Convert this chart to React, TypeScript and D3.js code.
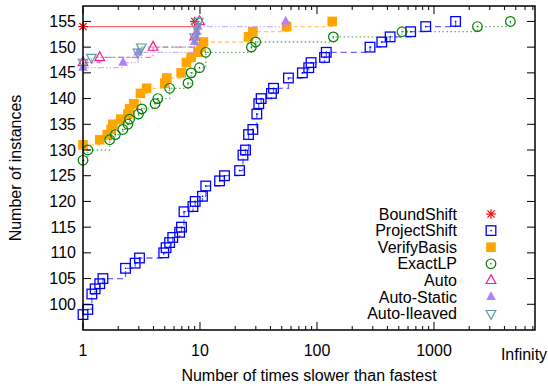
import * as d3 from 'd3';

// performance profile: [times slower than fastest, number of instances]
const boundShift: [number, number][] = [[1, 154], [9, 155]];
const projectShift: [number, number][] = [
  [1, 98], [1.1, 99], [1.19, 102], [1.27, 103], [1.39, 104], [1.48, 105], [2.31, 107], [2.79, 108],
  [3.04, 109], [4.9, 110], [5.13, 111], [5.5, 112], [5.85, 113], [6.7, 114], [6.95, 115], [7.3, 118],
  [8.7, 119], [9.1, 120], [10.5, 121], [11.2, 123], [14.7, 124], [16.2, 125], [21.8, 126], [23.3, 129],
  [24.5, 130], [26, 133], [28.3, 134], [30.6, 137], [31.8, 139], [33.3, 140], [40.8, 141], [42.5, 142],
  [57, 144], [75, 145], [85, 146], [89, 147], [116, 148], [120, 149], [284, 150], [358, 151],
  [422, 152], [632, 153], [850, 154], [1530, 155],
];
const verifyBasis: [number, number][] = [
  [1, 131], [1.39, 132], [1.61, 133], [1.74, 134], [1.8, 135], [2.1, 136], [2.42, 137], [2.5, 138],
  [2.72, 139], [3.1, 141], [3.5, 142], [5.0, 143], [5.2, 144], [6.9, 145], [7.65, 147], [8.4, 148],
  [9.6, 149], [10.2, 150], [10.7, 151], [26, 152], [28.3, 153], [55, 154], [135, 155],
];
const exactLP: [number, number][] = [
  [1, 128], [1.1, 130], [1.69, 132], [1.89, 133], [2.19, 134], [2.42, 135], [2.5, 136], [2.98, 137],
  [3.18, 138], [4.13, 139], [4.36, 140], [5.5, 142], [7.9, 143], [8.4, 145], [9.9, 146], [11.2, 149],
  [27.5, 150], [29.9, 151], [138, 152], [533, 153], [2350, 154], [4500, 155],
];
const auto: [number, number][] = [[1, 147], [1.39, 148], [3.97, 150], [9, 152], [9.9, 155]];
const autoStatic: [number, number][] = [
  [1, 146], [2.2, 147], [2.96, 149], [9, 151], [9.2, 152], [9.4, 153], [9.6, 154], [54, 155],
];
const autoIleaved: [number, number][] = [
  [1, 147], [1.18, 148], [2.95, 149], [3.15, 150], [9, 152], [9.3, 154], [9.7, 155],
];

const yTicks = d3.range(100, 156, 5);
const xMajor = [1, 10, 100, 1000];
const xMinor = [2, 3, 4, 5, 6, 7, 8, 9, 20, 30, 40, 50, 60, 70, 80, 90, 200, 300, 400, 500, 600, 700, 800, 900,
  2000, 3000, 4000, 5000, 6000, 7000];

type Marker = 'star' | 'boxdot' | 'fbox' | 'circdot' | 'tri' | 'ftri' | 'itri';
const series = [
  { name: 'BoundShift', data: boundShift, color: '#ff0000', marker: 'star' as Marker, dash: '' },
  { name: 'ProjectShift', data: projectShift, color: '#0000ff', marker: 'boxdot' as Marker, dash: '6,4' },
  { name: 'VerifyBasis', data: verifyBasis, color: '#ffa500', marker: 'fbox' as Marker, dash: '4,3' },
  { name: 'ExactLP', data: exactLP, color: '#007f00', marker: 'circdot' as Marker, dash: '1.5,2.5' },
  { name: 'Auto', data: auto, color: '#ff1493', marker: 'tri' as Marker, dash: '6,3,1.5,3' },
  { name: 'Auto-Static', data: autoStatic, color: '#b080ff', marker: 'ftri' as Marker, dash: '6,2,1.5,2,1.5,2' },
  { name: 'Auto-Ileaved', data: autoIleaved, color: '#5f9ea0', marker: 'itri' as Marker, dash: '5,3' },
];

const W = 548;
const H = 386;
const left = 83, right = 535, top = 6, bottom = 330;
const font = '"Liberation Sans", Arial, sans-serif';

const x = d3.scaleLog().domain([1, 7300]).range([left, right]);
const y = d3.scaleLinear().domain([95, 158]).range([bottom, top]);

const line = d3.line<[number, number]>()
  .x(d => x(d[0]))
  .y(d => y(d[1]))
  .curve(d3.curveStepAfter);

function drawMarker(m: Marker, cx: number, cy: number, color: string, key: string) {
  const s = 4.8;
  switch (m) {
    case 'star':
      return (
        <g key={key} stroke={color} strokeWidth={1.2}>
          <line x1={cx - s} y1={cy} x2={cx + s} y2={cy} />
          <line x1={cx} y1={cy - s} x2={cx} y2={cy + s} />
          <line x1={cx - s * 0.75} y1={cy - s * 0.75} x2={cx + s * 0.75} y2={cy + s * 0.75} />
          <line x1={cx - s * 0.75} y1={cy + s * 0.75} x2={cx + s * 0.75} y2={cy - s * 0.75} />
        </g>
      );
    case 'boxdot':
      return (
        <g key={key}>
          <rect x={cx - s} y={cy - s} width={s * 2} height={s * 2} fill="none" stroke={color} strokeWidth={1.3} />
          <rect x={cx - 0.7} y={cy - 0.7} width={1.4} height={1.4} fill={color} />
        </g>
      );
    case 'fbox':
      return <rect key={key} x={cx - s} y={cy - s} width={s * 2} height={s * 2} fill={color} />;
    case 'circdot':
      return (
        <g key={key}>
          <circle cx={cx} cy={cy} r={s} fill="none" stroke={color} strokeWidth={1.2} />
          <circle cx={cx} cy={cy} r={0.8} fill={color} />
        </g>
      );
    case 'tri':
    case 'ftri': {
      const p = `${cx},${cy - s * 1.2} ${cx + s},${cy + s * 0.65} ${cx - s},${cy + s * 0.65}`;
      return m === 'tri'
        ? <polygon key={key} points={p} fill="none" stroke={color} strokeWidth={1.2} />
        : <polygon key={key} points={p} fill={color} />;
    }
    case 'itri': {
      const p = `${cx},${cy + s * 1.2} ${cx + s},${cy - s * 0.65} ${cx - s},${cy - s * 0.65}`;
      return <polygon key={key} points={p} fill="none" stroke={color} strokeWidth={1.2} />;
    }
  }
}

export default function App() {
  return (
    <svg width={W} height={H} style={{ position: 'absolute', left: 0, top: 0, background: '#fff' }}
      fontFamily={font}>
      <rect width={W} height={H} fill="#fff" />
      {/* series */}
      {series.map(s => (
        <g key={s.name}>
          <path d={line(s.data) ?? ''} fill="none" stroke={s.color} strokeOpacity={0.6} strokeWidth={1.3}
            strokeDasharray={s.dash || undefined} />
          {s.data.map((d, i) => drawMarker(s.marker, x(d[0]), y(d[1]), s.color, `${s.name}-${i}`))}
        </g>
      ))}
      {/* ticks */}
      <g stroke="#000" strokeWidth={1}>
        {yTicks.map(t => (
          <g key={t}>
            <line x1={left} x2={left + 8} y1={y(t)} y2={y(t)} />
            <line x1={right} x2={right - 8} y1={y(t)} y2={y(t)} />
          </g>
        ))}
        {xMajor.map(t => (
          <g key={t}>
            <line x1={x(t)} x2={x(t)} y1={bottom} y2={bottom - 8} />
            <line x1={x(t)} x2={x(t)} y1={top} y2={top + 8} />
          </g>
        ))}
        {xMinor.map(t => (
          <g key={t}>
            <line x1={x(t)} x2={x(t)} y1={bottom} y2={bottom - 4} />
            <line x1={x(t)} x2={x(t)} y1={top} y2={top + 4} />
          </g>
        ))}
      </g>
      <rect x={left} y={top} width={right - left} height={bottom - top} fill="none" stroke="#000" strokeWidth={1.5} />
      {/* tick labels */}
      <g fontSize={16} fill="#000">
        {yTicks.map(t => (
          <text key={t} x={left - 7} y={y(t)} dy="0.35em" textAnchor="end">{t}</text>
        ))}
        {xMajor.map(t => (
          <text key={t} x={x(t)} y={356} textAnchor="middle">{t}</text>
        ))}
        <text x={x(5880)} y={360} textAnchor="middle">Infinity</text>
        <text x={(left + right) / 2} y={381} textAnchor="middle">Number of times slower than fastest</text>
        <text transform={`translate(21,${(top + bottom) / 2}) rotate(-90)`} textAnchor="middle">Number of instances</text>
      </g>
      {/* legend */}
      <g fontSize={16}>
        {series.map((s, i) => {
          const ly = 214 + i * 16.6;
          return (
            <g key={s.name}>
              <text x={457} y={ly} dy="0.35em" textAnchor="end">{s.name}</text>
              {drawMarker(s.marker, 491, ly, s.color, `leg-${s.name}`)}
            </g>
          );
        })}
      </g>
    </svg>
  );
}
